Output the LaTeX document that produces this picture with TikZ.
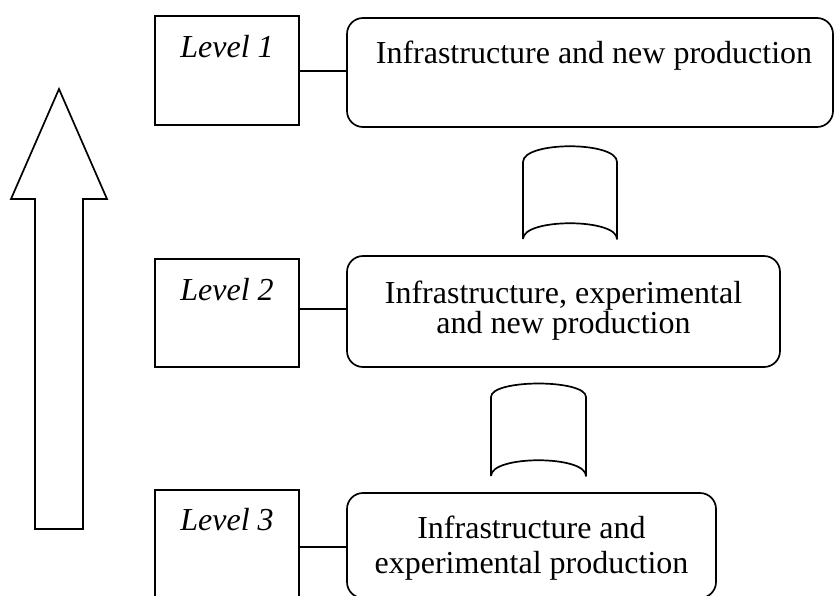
\documentclass[tikz,border=0pt]{standalone}
\usepackage{fontspec}
\setmainfont{Liberation Serif}
\begin{document}
\begin{tikzpicture}[x=1pt,y=-1pt,line width=1.7pt,
  levelbox/.style={draw,rectangle,inner sep=0pt,outer sep=0pt,anchor=north west},
  prodbox/.style={draw,rectangle,rounded corners=16pt,inner sep=0pt,outer sep=0pt,anchor=north west},
  txt/.style={inner sep=0pt,font=\fontsize{32}{30}\selectfont,align=center},
  link/.style={line width=1.5pt},
  scroll/.style={line width=1.7pt,line join=round}]
\useasboundingbox (0,0) rectangle (834,595);
\clip (0,0) rectangle (834,595);
% big upward arrow
\draw[line join=miter] (35,529) -- (35,199) -- (11,199) -- (59,89) -- (107,199) -- (83,199) -- (83,529) -- cycle;
% level boxes
\node[levelbox,minimum width=144pt,minimum height=109pt] (L1) at (155,16) {};
\node[levelbox,minimum width=144pt,minimum height=108pt] (L2) at (155,259) {};
\node[levelbox,minimum width=144pt,minimum height=114pt] (L3) at (155,490) {};
% production boxes
\node[prodbox,minimum width=486pt,minimum height=109pt] (B1) at (347,18) {};
\node[prodbox,minimum width=433pt,minimum height=111pt] (B2) at (347,256) {};
\node[prodbox,minimum width=369pt,minimum height=105pt] (B3) at (347,493) {};
% texts
\node[txt,anchor=base] (T1) at ([yshift=-41pt]L1.north) {\textit{Level 1}};
\node[txt,anchor=base] (T2) at ([yshift=-41pt]L2.north) {\textit{Level 2}};
\node[txt,anchor=base] (T3) at ([yshift=-40pt]L3.north) {\textit{Level 3}};
\node[txt,anchor=base] (P1) at ([xshift=4pt,yshift=-45pt]B1.north) {Infrastructure and new production};
\node[txt,anchor=base] (P2a) at ([yshift=-47pt]B2.north) {Infrastructure, experimental};
\node[txt,anchor=base] (P2b) at ([yshift=-30pt]P2a.base) {and new production};
\node[txt,anchor=base] (P3a) at ([yshift=-45pt]B3.north) {Infrastructure and};
\node[txt,anchor=base] (P3b) at ([yshift=-35pt]P3a.base) {experimental production};
% connectors
\draw[link] ([yshift=-0.5pt]L1.east) -- ([yshift=-0.5pt]B1.west |- L1.east);
\draw[link] ([yshift=4pt]L2.east) -- ([yshift=4pt]B2.west |- L2.east);
\draw[link] (L3.east) -- (B3.west |- L3.east);
% scroll shapes between boxes
\draw[scroll] (523,239) -- (523,162) .. controls (523,141) and (617,141) .. (617,162) -- (617,239) .. controls (617,218) and (523,218) .. (523,239);
\draw[scroll] (491,476) -- (491,397) .. controls (491,379) and (586,379) .. (586,397) -- (586,476) .. controls (586,455) and (491,455) .. (491,476);
\end{tikzpicture}
\end{document}
